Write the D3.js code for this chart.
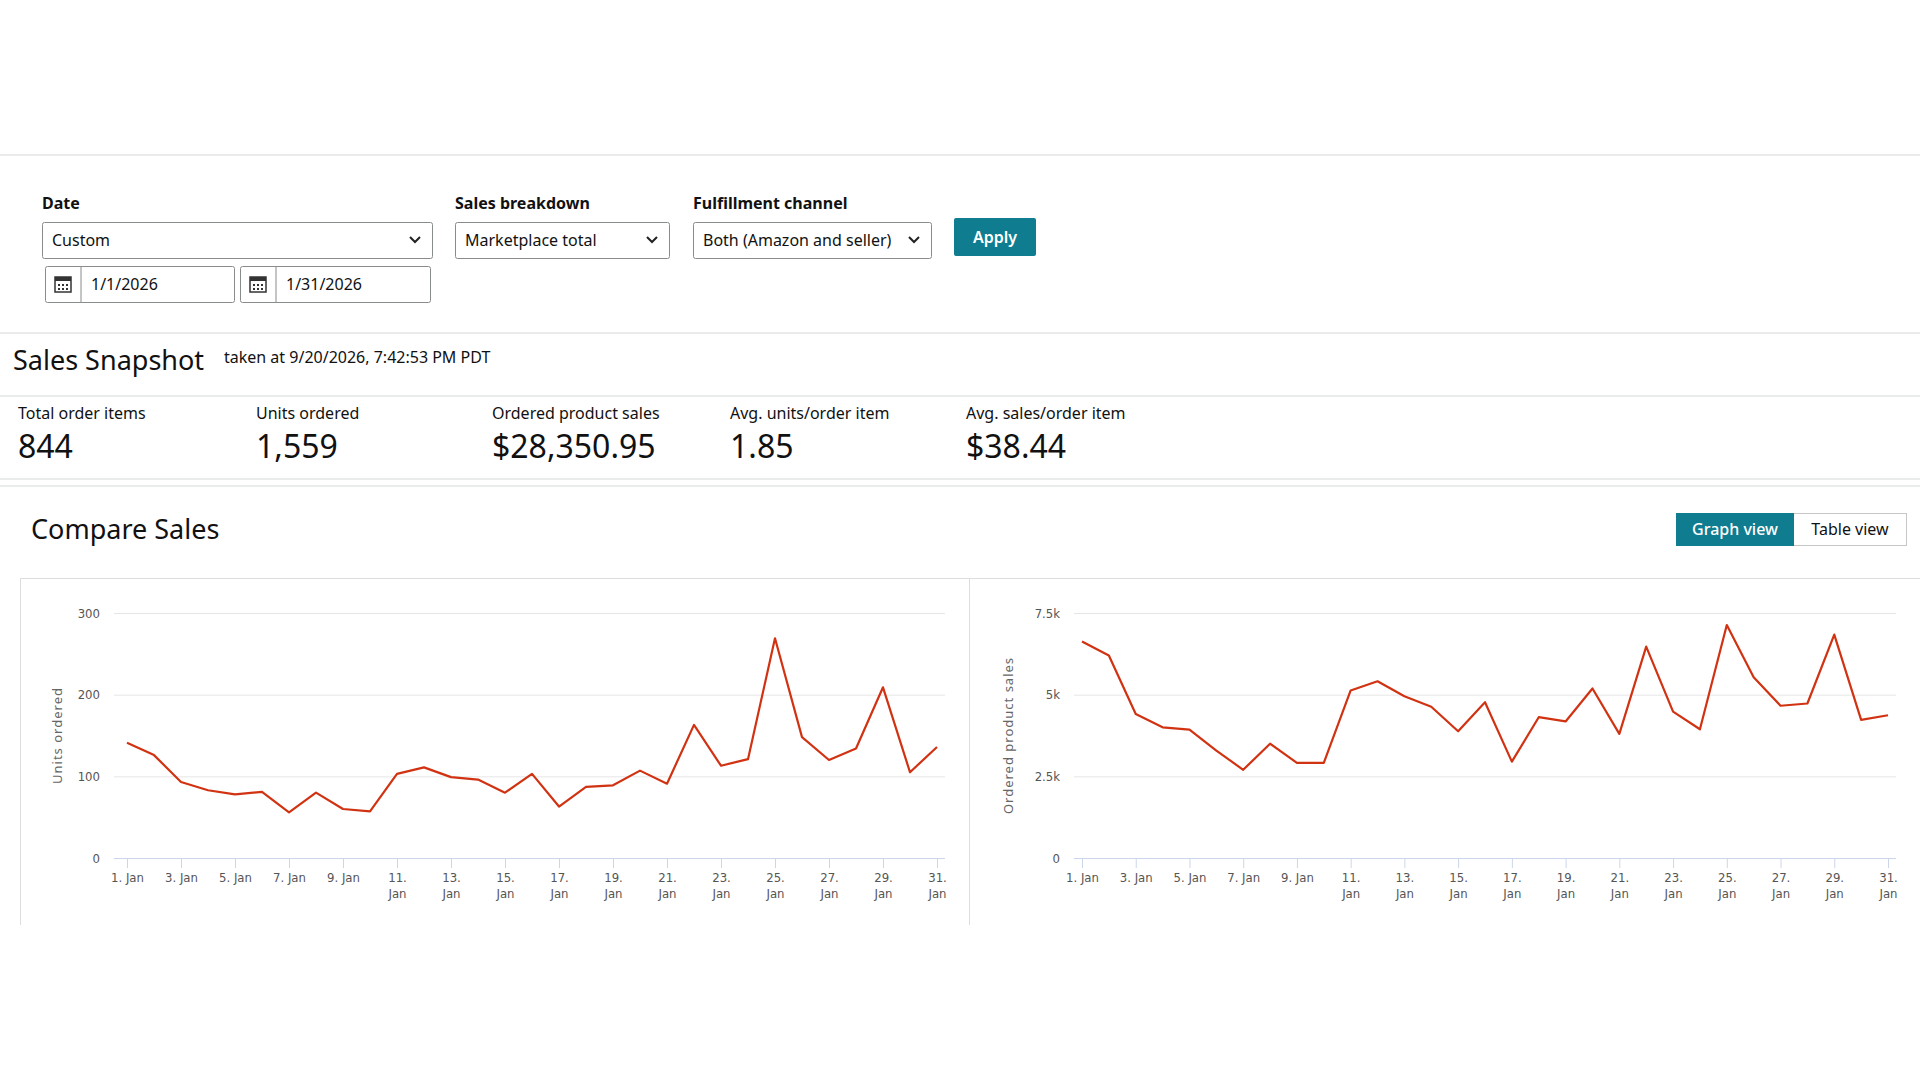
<!DOCTYPE html>
<html>
<head>
<meta charset="utf-8">
<script src="https://cdn.jsdelivr.net/npm/d3@7"></script>
<style>
  body { margin: 0; background: #fff; font-family: "Noto Sans", "Open Sans", sans-serif; color: #111; }
  svg { display: block; }
</style>
</head>
<body>
<svg id="page" width="1920" height="1080"></svg>
<script>
// data
var days = d3.range(1, 32);
var unitsOrdered = [141,126,93,83,78,81,56,80,60,57,103,111,99,96,80,103,63,87,89,107,91,163,113,121,269,148,120,134,209,105,136];
var productSales = [6630,6200,4410,4000,3930,3290,2700,3500,2910,2910,5130,5410,4950,4630,3880,4770,2950,4310,4180,5190,3800,6470,4480,3940,7130,5530,4660,4730,6840,4230,4370];
var unitTicks = [0, 100, 200, 300];
var salesTicks = [0, 2500, 5000, 7500];
var metricLabels = ["Total order items", "Units ordered", "Ordered product sales", "Avg. units/order item", "Avg. sales/order item"];
var metricValues = ["844", "1,559", "$28,350.95", "1.85", "$38.44"];

var svg = d3.select("#page");
var teal = "#0f7c90";
var border = "#c7c7c7";

function hline(y, x1, x2) {
  svg.append("line").attr("x1", x1 || 0).attr("x2", x2 || 1920).attr("y1", y).attr("y2", y)
    .attr("stroke", "#d5d9d9").attr("stroke-width", 1.2);
}
function txt(x, y, s, size, weight, fill) {
  return svg.append("text").attr("x", x).attr("y", y).text(s)
    .style("font-size", size + "px").style("font-weight", weight || 400).attr("fill", fill || "#111");
}
function selectBox(x, y, w, h, label) {
  svg.append("rect").attr("x", x + 0.5).attr("y", y + 0.5).attr("width", w).attr("height", h)
    .attr("fill", "#fff").attr("stroke", "#888c8c").attr("rx", 2);
  txt(x + 10, y + h / 2 + 6, label, 16);
  var cx = x + w - 17, cy = y + h / 2;
  svg.append("path").attr("d", "M" + (cx - 5) + "," + (cy - 3) + "L" + cx + "," + (cy + 2) + "L" + (cx + 5) + "," + (cy - 3))
    .attr("fill", "none").attr("stroke", "#222").attr("stroke-width", 2);
}
function dateBox(x, y, w, h, label) {
  svg.append("rect").attr("x", x + 0.5).attr("y", y + 0.5).attr("width", w).attr("height", h)
    .attr("fill", "#fff").attr("stroke", "#888c8c").attr("rx", 2);
  svg.append("line").attr("x1", x + 36).attr("x2", x + 36).attr("y1", y).attr("y2", y + h).attr("stroke", "#888c8c");
  var ix = x + 10, iy = y + 10;
  svg.append("rect").attr("x", ix).attr("y", iy + 1).attr("width", 16).attr("height", 15).attr("fill", "none").attr("stroke", "#333").attr("stroke-width", 1.5);
  svg.append("rect").attr("x", ix).attr("y", iy + 1).attr("width", 16).attr("height", 4).attr("fill", "#333");
  for (var r = 0; r < 2; r++) for (var c = 0; c < 3; c++)
    svg.append("rect").attr("x", ix + 3 + c * 4).attr("y", iy + 8 + r * 4).attr("width", 2).attr("height", 2).attr("fill", "#333");
  txt(x + 46, y + h / 2 + 6, label, 16);
}

// filter bar
hline(155);
txt(42, 209, "Date", 16, 700);
txt(455, 209, "Sales breakdown", 16, 700);
txt(693, 209, "Fulfillment channel", 16, 700);
selectBox(42, 222, 390, 36, "Custom");
selectBox(455, 222, 214, 36, "Marketplace total");
selectBox(693, 222, 238, 36, "Both (Amazon and seller)");
dateBox(45, 266, 189, 36, "1/1/2026");
dateBox(240, 266, 190, 36, "1/31/2026");
svg.append("rect").attr("x", 954).attr("y", 218).attr("width", 82).attr("height", 38).attr("rx", 2).attr("fill", teal);
txt(995, 243, "Apply", 16, 600, "#fff").attr("text-anchor", "middle");

// snapshot
hline(333);
txt(13, 370, "Sales Snapshot", 27);
txt(224, 363, "taken at 9/20/2026, 7:42:53 PM PDT", 16);
hline(396);
var mx = [18, 256, 492, 730, 966];
metricLabels.forEach(function (l, i) {
  txt(mx[i], 419, l, 16);
  txt(mx[i], 458, metricValues[i], 32);
});
hline(479);
hline(486);

// compare sales header
txt(31, 539, "Compare Sales", 27);
svg.append("rect").attr("x", 1676.5).attr("y", 513.5).attr("width", 230).attr("height", 32).attr("fill", "#fff").attr("stroke", border);
svg.append("rect").attr("x", 1676).attr("y", 513).attr("width", 118).attr("height", 33).attr("fill", teal);
txt(1735, 535, "Graph view", 16, 500, "#fff").attr("text-anchor", "middle");
txt(1850, 535, "Table view", 16, 400).attr("text-anchor", "middle");

// panels
svg.append("line").attr("x1", 20).attr("x2", 1920).attr("y1", 578.5).attr("y2", 578.5).attr("stroke", "#ddd");
[20, 969].forEach(function (x) {
  svg.append("line").attr("x1", x + 0.5).attr("x2", x + 0.5).attr("y1", 578).attr("y2", 925).attr("stroke", "#ddd");
});

function drawChart(opt) {
  var x = d3.scaleLinear().domain([1, 31]).range([opt.x0, opt.x1]);
  var y = d3.scaleLinear().domain([0, opt.max]).range([858, 613]);
  var g = svg.append("g");
  g.append("g").attr("transform", "translate(" + opt.gx0 + ",0)")
    .call(d3.axisLeft(y).tickValues(opt.ticks).tickSize(-(opt.gx1 - opt.gx0)).tickFormat(opt.fmt))
    .call(function (a) {
      a.select(".domain").remove();
      a.selectAll(".tick line").attr("stroke", "#e6e6e6");
      a.selectAll(".tick").filter(function (d) { return d === 0; }).select("line").remove();
      a.selectAll("text").attr("x", -14).attr("fill", "#555").style("font-size", "13px")
        .style("font-family", "'DejaVu Sans Condensed', sans-serif");
    });
  var ax = g.append("g").attr("transform", "translate(0,858)")
    .call(d3.axisBottom(x).tickValues(days.filter(function (d) { return d % 2 === 1; })).tickSize(10).tickFormat(""));
  ax.select(".domain").attr("d", "M" + opt.gx0 + ",0.5H" + opt.gx1).attr("stroke", "#ccd6eb");
  ax.selectAll(".tick line").attr("stroke", "#ccd6eb");
  ax.selectAll(".tick").each(function (d) {
    var t = d3.select(this).append("text").attr("fill", "#555").attr("text-anchor", "middle")
      .style("font-size", "13px").style("font-family", "'DejaVu Sans Condensed', sans-serif");
    if (d < 10) t.append("tspan").attr("x", 0).attr("y", 24).text(d + ". Jan");
    else {
      t.append("tspan").attr("x", 0).attr("y", 24).text(d + ".");
      t.append("tspan").attr("x", 0).attr("y", 40).text("Jan");
    }
  });
  g.append("path").datum(opt.data)
    .attr("d", d3.line().x(function (d, i) { return x(days[i]); }).y(function (d) { return y(d); }))
    .attr("fill", "none").attr("stroke", "#d13212").attr("stroke-width", 2.2).attr("stroke-linejoin", "round");
  g.append("text").attr("transform", "translate(" + opt.lx + ",735.5) rotate(-90)")
    .attr("text-anchor", "middle").attr("fill", "#666").style("font-size", "13px").style("letter-spacing", "1px")
    .text(opt.label);
}

drawChart({ x0: 127, x1: 937, gx0: 114, gx1: 945, max: 300, ticks: unitTicks, fmt: d3.format("d"),
  data: unitsOrdered, label: "Units ordered", lx: 62 });
drawChart({ x0: 1082, x1: 1888, gx0: 1074, gx1: 1896, max: 7500, ticks: salesTicks,
  fmt: function (d) { return d === 0 ? "0" : (d / 1000) + "k"; },
  data: productSales, label: "Ordered product sales", lx: 1013 });
</script>
</body>
</html>
